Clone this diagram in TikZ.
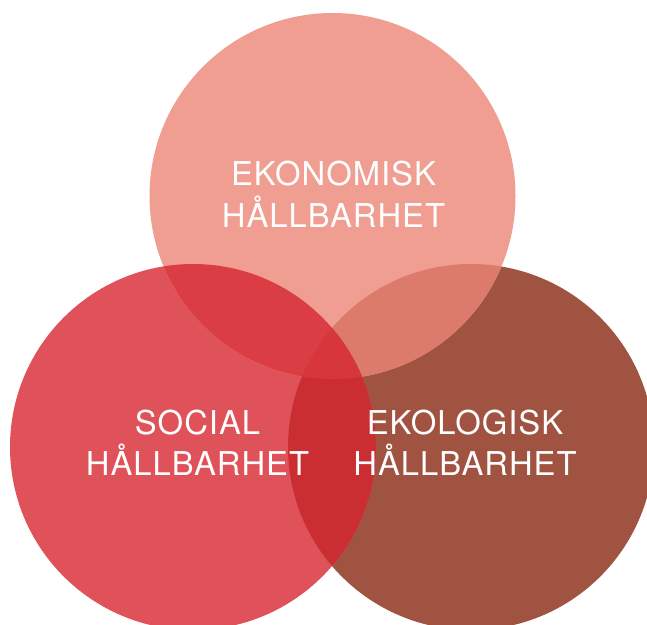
\documentclass[tikz,border=0pt]{standalone}
\usepackage{fontspec}
\setmainfont{TeX Gyre Heros}[LetterSpace=3]
\definecolor{cT}{HTML}{F09D92}
\definecolor{cL}{HTML}{E05259}
\definecolor{cR}{HTML}{A05340}
\definecolor{cTL}{HTML}{DA3E44}
\definecolor{cTR}{HTML}{DC7B6C}
\definecolor{cLR}{HTML}{CA2E33}
\definecolor{cTLR}{HTML}{D6363C}
\tikzset{
  lbl/.style={text=white, anchor=base, inner sep=0pt, font=\fontsize{32.8}{38}\selectfont},
}
\begin{document}
\begin{tikzpicture}[x=1pt,y=1pt]
\useasboundingbox (0,0) rectangle (647,-624);
\begin{scope}
\clip (0,0) rectangle (647,-624);
\def\Tc{(332.5,-196) circle (183)}
\def\Lc{(193,-447) circle (183)}
\def\Rc{(471,-447) circle (183)}
\fill[cR] \Rc;
\fill[cL] \Lc;
\fill[cT] \Tc;
\begin{scope}\clip \Tc; \fill[cTL] \Lc; \end{scope}
\begin{scope}\clip \Tc; \fill[cTR] \Rc; \end{scope}
\begin{scope}\clip \Lc; \fill[cLR] \Rc; \end{scope}
\begin{scope}\clip \Tc; \clip \Lc; \fill[cTLR] \Rc; \end{scope}
\end{scope}
\node[lbl] (t1) at (333.5,-185) {EKONOMISK};
\node[lbl] (t2) at (333.5,-227) {HÅLLBARHET};
\node[lbl] (l1) at (197.5,-434) {SOCIAL};
\node[lbl] (l2) at (197.5,-475) {HÅLLBARHET};
\node[lbl] (r1) at (465,-434) {EKOLOGISK};
\node[lbl] (r2) at (465,-475) {HÅLLBARHET};
\end{tikzpicture}
\end{document}
